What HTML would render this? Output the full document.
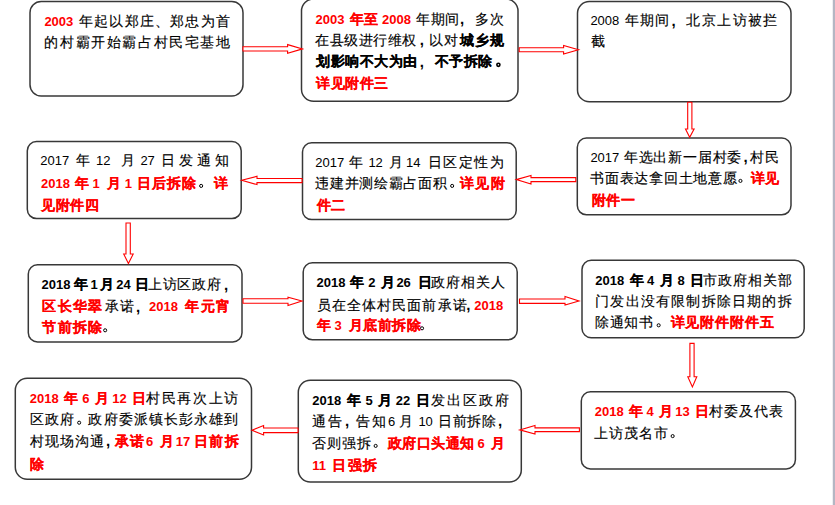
<!DOCTYPE html>
<html><head><meta charset="utf-8"><style>
html,body{margin:0;padding:0;background:#fff;width:835px;height:505px;overflow:hidden;position:relative}
svg{position:absolute;left:0;top:0}
.bar{position:absolute;left:833px;top:0;width:2px;height:505px;background:#b4b6c3}
.bar2{position:absolute;left:832px;top:0;width:1px;height:505px;background:#eeeef2}
.ln{position:absolute;white-space:nowrap;font-family:"Liberation Sans",sans-serif;font-size:14px;line-height:21px;color:#000;letter-spacing:0.5px}
.j{text-align:justify;text-align-last:justify}
.n{font-weight:normal;color:#000;-webkit-text-stroke:0.15px #000}
.b{font-weight:bold;color:#000;-webkit-text-stroke:0.15px #000}
.r{font-weight:bold;color:#ff0000;-webkit-text-stroke:0.15px #ff0000}
.d{font-size:13px;letter-spacing:0;-webkit-text-stroke:0}
.cm{position:absolute;font-family:"Liberation Sans",sans-serif;font-size:15px;font-weight:bold;line-height:21px}
.pe{position:absolute;width:2.6px;height:2.6px;border:1px solid #000;border-radius:50%}
</style></head><body>
<svg width="835" height="505" viewBox="0 0 835 505">
<rect x="30.00" y="1.50" width="213.00" height="94.50" rx="11.18" ry="11.18" fill="#fff" stroke="#383838" stroke-width="1.5"/>
<rect x="301.50" y="-1.00" width="216.50" height="102.30" rx="12.06" ry="12.06" fill="#fff" stroke="#383838" stroke-width="1.5"/>
<rect x="577.50" y="1.50" width="213.50" height="100.30" rx="11.83" ry="11.83" fill="#fff" stroke="#383838" stroke-width="1.5"/>
<rect x="27.30" y="141.50" width="213.90" height="77.10" rx="9.24" ry="9.24" fill="#fff" stroke="#383838" stroke-width="1.5"/>
<rect x="302.50" y="142.80" width="213.70" height="76.80" rx="9.20" ry="9.20" fill="#fff" stroke="#383838" stroke-width="1.5"/>
<rect x="577.30" y="138.00" width="213.70" height="76.80" rx="9.20" ry="9.20" fill="#fff" stroke="#383838" stroke-width="1.5"/>
<rect x="28.30" y="264.80" width="213.70" height="77.20" rx="9.25" ry="9.25" fill="#fff" stroke="#383838" stroke-width="1.5"/>
<rect x="303.20" y="262.80" width="214.00" height="77.00" rx="9.22" ry="9.22" fill="#fff" stroke="#383838" stroke-width="1.5"/>
<rect x="582.00" y="260.20" width="222.20" height="77.50" rx="9.28" ry="9.28" fill="#fff" stroke="#383838" stroke-width="1.5"/>
<rect x="15.30" y="378.30" width="236.20" height="100.90" rx="11.90" ry="11.90" fill="#fff" stroke="#383838" stroke-width="1.5"/>
<rect x="298.30" y="380.20" width="223.00" height="101.80" rx="12.00" ry="12.00" fill="#fff" stroke="#383838" stroke-width="1.5"/>
<rect x="581.30" y="391.80" width="214.10" height="77.10" rx="9.24" ry="9.24" fill="#fff" stroke="#383838" stroke-width="1.5"/>
<circle cx="498.40" cy="64.80" r="1.55" fill="none" stroke="#000" stroke-width="1.6"/>
<circle cx="201.15" cy="185.90" r="1.55" fill="none" stroke="#000" stroke-width="1.0"/>
<circle cx="452.15" cy="185.90" r="1.55" fill="none" stroke="#000" stroke-width="1.0"/>
<circle cx="740.45" cy="180.90" r="1.55" fill="none" stroke="#000" stroke-width="1.0"/>
<circle cx="105.15" cy="330.30" r="1.55" fill="none" stroke="#000" stroke-width="1.0"/>
<circle cx="422.05" cy="328.30" r="1.55" fill="none" stroke="#000" stroke-width="1.0"/>
<circle cx="658.65" cy="325.30" r="1.55" fill="none" stroke="#000" stroke-width="1.0"/>
<circle cx="79.15" cy="422.70" r="1.55" fill="none" stroke="#000" stroke-width="1.0"/>
<circle cx="375.65" cy="445.90" r="1.55" fill="none" stroke="#000" stroke-width="1.0"/>
<circle cx="672.65" cy="436.10" r="1.55" fill="none" stroke="#000" stroke-width="1.0"/>
<path d="M243.0,46.7 L287.6,46.7 L287.6,44.6 L302.5,48.9 L287.6,53.2 L287.6,51.0 L243.0,51.0 Z" fill="#fff" stroke="#ff0000" stroke-width="1.1" stroke-linejoin="miter"/>
<path d="M519.2,47.8 L563.6,47.8 L563.6,45.4 L578.5,49.8 L563.6,54.0 L563.6,51.8 L519.2,51.8 Z" fill="#fff" stroke="#ff0000" stroke-width="1.1" stroke-linejoin="miter"/>
<path d="M575.8,177.6 L531.0,177.6 L531.0,175.5 L516.3,179.6 L531.0,184.0 L531.0,181.6 L575.8,181.6 Z" fill="#fff" stroke="#ff0000" stroke-width="1.1" stroke-linejoin="miter"/>
<path d="M302.0,178.5 L257.0,178.5 L257.0,176.3 L241.7,180.3 L257.0,184.6 L257.0,182.6 L302.0,182.6 Z" fill="#fff" stroke="#ff0000" stroke-width="1.1" stroke-linejoin="miter"/>
<path d="M243.0,298.7 L288.0,298.7 L288.0,297.1 L302.0,301.0 L288.0,305.6 L288.0,303.2 L243.0,303.2 Z" fill="#fff" stroke="#ff0000" stroke-width="1.1" stroke-linejoin="miter"/>
<path d="M519.5,299.0 L565.0,299.0 L565.0,296.6 L579.0,301.0 L565.0,305.1 L565.0,303.4 L519.5,303.4 Z" fill="#fff" stroke="#ff0000" stroke-width="1.1" stroke-linejoin="miter"/>
<path d="M579.4,427.9 L535.0,427.9 L535.0,425.5 L519.8,429.9 L535.0,434.1 L535.0,431.6 L579.4,431.6 Z" fill="#fff" stroke="#ff0000" stroke-width="1.1" stroke-linejoin="miter"/>
<path d="M298.0,428.0 L263.6,428.0 L263.6,425.6 L251.9,430.2 L263.6,435.0 L263.6,432.6 L298.0,432.6 Z" fill="#fff" stroke="#ff0000" stroke-width="1.1" stroke-linejoin="miter"/>
<path d="M687.7,102.2 L687.7,129.0 L685.5,129.0 L689.7,137.2 L694.1,129.0 L691.9,129.0 L691.9,102.2 Z" fill="#fff" stroke="#ff0000" stroke-width="1.1" stroke-linejoin="miter"/>
<path d="M126.0,223.0 L126.0,254.0 L123.7,254.0 L128.4,263.5 L133.2,254.0 L130.3,254.0 L130.3,223.0 Z" fill="#fff" stroke="#ff0000" stroke-width="1.1" stroke-linejoin="miter"/>
<path d="M689.9,343.4 L689.9,376.8 L687.8,376.8 L692.4,387.0 L696.8,376.8 L694.1,376.8 L694.1,343.4 Z" fill="#fff" stroke="#ff0000" stroke-width="1.1" stroke-linejoin="miter"/>
</svg>
<div class="bar2"></div><div class="bar"></div>
<div class="ln" style="left:44.4px;top:10.9px"><span class="r"><span class="d">2003</span></span></div>
<div class="ln j" style="left:78.9px;top:10.9px;width:151.4px"><span class="n">年起以郑庄、郑忠为首</span></div>
<div class="ln j" style="left:44.4px;top:32.2px;width:186.2px"><span class="n">的村霸开始霸占村民宅基地</span></div>
<div class="ln" style="left:315.5px;top:8.9px"><span class="r"><span class="d">2003</span></span></div>
<div class="ln j" style="left:349.7px;top:8.9px;width:27.7px"><span class="r">年至</span></div>
<div class="ln" style="left:382.1px;top:8.9px"><span class="r"><span class="d">2008</span></span></div>
<div class="ln j" style="left:416.0px;top:8.9px;width:43.7px"><span class="n">年期间</span></div>
<div class="cm" style="left:460.0px;top:8.4px;color:#000">,</div>
<div class="ln j" style="left:474.7px;top:8.9px;width:29.5px"><span class="n">多次</span></div>
<div class="ln j" style="left:315.4px;top:29.9px;width:101.2px"><span class="n">在县级进行维权</span></div>
<div class="cm" style="left:419.7px;top:29.4px;color:#000">,</div>
<div class="ln j" style="left:429.2px;top:29.9px;width:29.2px"><span class="n">以对</span></div>
<div class="ln j" style="left:459.9px;top:29.9px;width:44.3px"><span class="b">城乡规</span></div>
<div class="ln j" style="left:316.2px;top:51.0px;width:100.4px"><span class="b">划影响不大为由</span></div>
<div class="cm" style="left:419.7px;top:50.5px;color:#000">,</div>
<div class="ln j" style="left:434.8px;top:51.0px;width:57.3px"><span class="b">不予拆除</span></div>
<div class="ln" style="left:316.0px;top:73.4px"><span class="r">详见附件三</span></div>
<div class="ln" style="left:590.4px;top:10.2px"><span class="n"><span class="d">2008</span></span></div>
<div class="ln j" style="left:625.1px;top:10.2px;width:44.6px"><span class="n">年期间</span></div>
<div class="cm" style="left:671.4px;top:9.7px;color:#000">,</div>
<div class="ln j" style="left:686.2px;top:10.2px;width:91.8px"><span class="n">北京上访被拦</span></div>
<div class="ln" style="left:591.1px;top:31.3px"><span class="n">截</span></div>
<div class="ln" style="left:40.2px;top:150.2px"><span class="n"><span class="d">2017</span></span></div>
<div class="ln" style="left:76.3px;top:150.2px"><span class="n">年</span></div>
<div class="ln" style="left:96.1px;top:150.2px"><span class="n"><span class="d">12</span></span></div>
<div class="ln" style="left:120.6px;top:150.2px"><span class="n">月</span></div>
<div class="ln" style="left:140.4px;top:150.2px"><span class="n"><span class="d">27</span></span></div>
<div class="ln j" style="left:161.4px;top:150.2px;width:68.4px"><span class="n">日发通知</span></div>
<div class="ln" style="left:41.0px;top:172.6px"><span class="r"><span class="d">2018</span></span></div>
<div class="ln" style="left:74.5px;top:172.6px"><span class="r">年</span></div>
<div class="ln" style="left:92.4px;top:172.6px"><span class="r"><span class="d">1</span></span></div>
<div class="ln" style="left:106.9px;top:172.6px"><span class="r">月</span></div>
<div class="ln" style="left:124.8px;top:172.6px"><span class="r"><span class="d">1</span></span></div>
<div class="ln j" style="left:137.2px;top:172.6px;width:59.8px"><span class="r">日后拆除</span></div>
<div class="ln" style="left:214.4px;top:172.6px"><span class="r">详</span></div>
<div class="ln" style="left:41.0px;top:195.0px"><span class="r">见附件四</span></div>
<div class="ln" style="left:315.2px;top:151.5px"><span class="n"><span class="d">2017</span></span></div>
<div class="ln" style="left:348.9px;top:151.5px"><span class="n">年</span></div>
<div class="ln" style="left:368.4px;top:151.5px"><span class="n"><span class="d">12</span></span></div>
<div class="ln" style="left:389.0px;top:151.5px"><span class="n">月</span></div>
<div class="ln" style="left:406.1px;top:151.5px"><span class="n"><span class="d">14</span></span></div>
<div class="ln j" style="left:427.7px;top:151.5px;width:76.6px"><span class="n">日区定性为</span></div>
<div class="ln j" style="left:315.2px;top:172.6px;width:132.2px"><span class="n">违建并测绘霸占面积</span></div>
<div class="ln j" style="left:459.6px;top:172.6px;width:46.0px"><span class="r">详见附</span></div>
<div class="ln" style="left:316.5px;top:195.0px"><span class="r">件二</span></div>
<div class="ln" style="left:590.4px;top:146.5px"><span class="n"><span class="d">2017</span></span></div>
<div class="ln j" style="left:623.9px;top:146.5px;width:118.0px"><span class="n">年选出新一届村委</span></div>
<div class="cm" style="left:743.5px;top:146.0px;color:#000">,</div>
<div class="ln j" style="left:749.7px;top:146.5px;width:29.5px"><span class="n">村民</span></div>
<div class="ln j" style="left:590.4px;top:167.6px;width:146.7px"><span class="n">书面表达拿回土地意愿</span></div>
<div class="ln j" style="left:750.5px;top:167.6px;width:29.4px"><span class="r">详见</span></div>
<div class="ln" style="left:591.9px;top:190.0px"><span class="r">附件一</span></div>
<div class="ln" style="left:41.5px;top:274.1px"><span class="b"><span class="d">2018</span></span></div>
<div class="ln" style="left:73.9px;top:274.1px"><span class="b">年</span></div>
<div class="ln" style="left:90.6px;top:274.1px"><span class="b"><span class="d">1</span></span></div>
<div class="ln" style="left:100.3px;top:274.1px"><span class="b">月</span></div>
<div class="ln" style="left:116.2px;top:274.1px"><span class="b"><span class="d">24</span></span></div>
<div class="ln" style="left:134.6px;top:274.1px"><span class="b">日</span></div>
<div class="ln j" style="left:148.2px;top:274.1px;width:73.0px"><span class="n">上访区政府</span></div>
<div class="cm" style="left:224.0px;top:273.6px;color:#000">,</div>
<div class="ln j" style="left:42.3px;top:296.0px;width:60.3px"><span class="r">区长华翠</span></div>
<div class="ln j" style="left:104.8px;top:296.0px;width:29.5px"><span class="n">承诺</span></div>
<div class="cm" style="left:136.0px;top:295.5px;color:#000">,</div>
<div class="ln" style="left:149.0px;top:296.0px"><span class="r"><span class="d">2018</span></span></div>
<div class="ln j" style="left:185.4px;top:296.0px;width:45.2px"><span class="r">年元宵</span></div>
<div class="ln j" style="left:42.3px;top:317.0px;width:60.5px"><span class="r">节前拆除</span></div>
<div class="ln" style="left:316.5px;top:272.1px"><span class="b"><span class="d">2018</span></span></div>
<div class="ln" style="left:349.7px;top:272.1px"><span class="b">年</span></div>
<div class="ln" style="left:368.2px;top:272.1px"><span class="b"><span class="d">2</span></span></div>
<div class="ln" style="left:380.6px;top:272.1px"><span class="b">月</span></div>
<div class="ln" style="left:396.4px;top:272.1px"><span class="b"><span class="d">26</span></span></div>
<div class="ln" style="left:417.5px;top:272.1px"><span class="b">日</span></div>
<div class="ln j" style="left:431.2px;top:272.1px;width:74.4px"><span class="n">政府相关人</span></div>
<div class="ln j" style="left:316.5px;top:294.5px;width:150.7px"><span class="n">员在全体村民面前承诺</span></div>
<div class="cm" style="left:466.3px;top:294.0px;color:#000">,</div>
<div class="ln" style="left:474.2px;top:294.5px"><span class="r"><span class="d">2018</span></span></div>
<div class="ln" style="left:316.5px;top:315.0px"><span class="r">年</span></div>
<div class="ln" style="left:334.5px;top:315.0px"><span class="r"><span class="d">3</span></span></div>
<div class="ln j" style="left:348.9px;top:315.0px;width:71.5px"><span class="r">月底前拆除</span></div>
<div class="ln" style="left:595.3px;top:269.9px"><span class="b"><span class="d">2018</span></span></div>
<div class="ln" style="left:630.0px;top:269.9px"><span class="b">年</span></div>
<div class="ln" style="left:647.1px;top:269.9px"><span class="b"><span class="d">4</span></span></div>
<div class="ln" style="left:659.5px;top:269.9px"><span class="b">月</span></div>
<div class="ln" style="left:677.4px;top:269.9px"><span class="b"><span class="d">8</span></span></div>
<div class="ln" style="left:689.8px;top:269.9px"><span class="b">日</span></div>
<div class="ln j" style="left:702.7px;top:269.9px;width:89.4px"><span class="n">市政府相关部</span></div>
<div class="ln j" style="left:595.3px;top:291.4px;width:196.8px"><span class="n">门发出没有限制拆除日期的拆</span></div>
<div class="ln j" style="left:595.3px;top:312.0px;width:58.1px"><span class="n">除通知书</span></div>
<div class="ln j" style="left:670.5px;top:312.0px;width:103.9px"><span class="r">详见附件附件五</span></div>
<div class="ln" style="left:29.7px;top:388.0px"><span class="r"><span class="d">2018</span></span></div>
<div class="ln" style="left:64.2px;top:388.0px"><span class="r">年</span></div>
<div class="ln" style="left:82.3px;top:388.0px"><span class="r"><span class="d">6</span></span></div>
<div class="ln" style="left:94.6px;top:388.0px"><span class="r">月</span></div>
<div class="ln" style="left:112.2px;top:388.0px"><span class="r"><span class="d">12</span></span></div>
<div class="ln" style="left:132.0px;top:388.0px"><span class="r">日</span></div>
<div class="ln j" style="left:145.8px;top:388.0px;width:93.2px"><span class="n">村民再次上访</span></div>
<div class="ln j" style="left:30.4px;top:409.4px;width:44.5px"><span class="n">区政府</span></div>
<div class="ln j" style="left:88.4px;top:409.4px;width:150.6px"><span class="n">政府委派镇长彭永雄到</span></div>
<div class="ln j" style="left:29.5px;top:430.6px;width:74.9px"><span class="n">村现场沟通</span></div>
<div class="cm" style="left:106.0px;top:430.1px;color:#000">,</div>
<div class="ln j" style="left:114.5px;top:430.6px;width:30.3px"><span class="r">承诺</span></div>
<div class="ln" style="left:146.0px;top:430.6px"><span class="r"><span class="d">6</span></span></div>
<div class="ln" style="left:159.8px;top:430.6px"><span class="r">月</span></div>
<div class="ln" style="left:175.8px;top:430.6px"><span class="r"><span class="d">17</span></span></div>
<div class="ln j" style="left:194.0px;top:430.6px;width:45.0px"><span class="r">日前拆</span></div>
<div class="ln" style="left:30.3px;top:453.8px"><span class="r">除</span></div>
<div class="ln" style="left:312.3px;top:389.9px"><span class="b"><span class="d">2018</span></span></div>
<div class="ln" style="left:347.0px;top:389.9px"><span class="b">年</span></div>
<div class="ln" style="left:365.4px;top:389.9px"><span class="b"><span class="d">5</span></span></div>
<div class="ln" style="left:378.4px;top:389.9px"><span class="b">月</span></div>
<div class="ln" style="left:395.8px;top:389.9px"><span class="b"><span class="d">22</span></span></div>
<div class="ln" style="left:416.4px;top:389.9px"><span class="b">日</span></div>
<div class="ln j" style="left:430.8px;top:389.9px;width:78.3px"><span class="n">发出区政府</span></div>
<div class="ln j" style="left:312.3px;top:410.8px;width:30.7px"><span class="n">通告</span></div>
<div class="cm" style="left:345.0px;top:410.3px;color:#000">,</div>
<div class="ln j" style="left:356.4px;top:410.8px;width:30.0px"><span class="n">告知</span></div>
<div class="ln" style="left:388.1px;top:410.8px"><span class="n"><span class="d">6</span></span></div>
<div class="ln" style="left:398.5px;top:410.8px"><span class="n">月</span></div>
<div class="ln" style="left:418.4px;top:410.8px"><span class="n"><span class="d">10</span></span></div>
<div class="ln j" style="left:437.7px;top:410.8px;width:59.0px"><span class="n">日前拆除</span></div>
<div class="cm" style="left:497.9px;top:410.3px;color:#000">,</div>
<div class="ln j" style="left:312.3px;top:432.6px;width:59.1px"><span class="n">否则强拆</span></div>
<div class="ln j" style="left:387.5px;top:432.6px;width:87.2px"><span class="r">政府口头通知</span></div>
<div class="ln" style="left:477.6px;top:432.6px"><span class="r"><span class="d">6</span></span></div>
<div class="ln" style="left:491.3px;top:432.6px"><span class="r">月</span></div>
<div class="ln" style="left:312.3px;top:454.6px"><span class="r"><span class="d">11</span></span></div>
<div class="ln j" style="left:332.4px;top:454.6px;width:45.3px"><span class="r">日强拆</span></div>
<div class="ln" style="left:594.7px;top:401.3px"><span class="r"><span class="d">2018</span></span></div>
<div class="ln" style="left:629.2px;top:401.3px"><span class="r">年</span></div>
<div class="ln" style="left:646.5px;top:401.3px"><span class="r"><span class="d">4</span></span></div>
<div class="ln" style="left:658.6px;top:401.3px"><span class="r">月</span></div>
<div class="ln" style="left:675.2px;top:401.3px"><span class="r"><span class="d">13</span></span></div>
<div class="ln" style="left:695.2px;top:401.3px"><span class="r">日</span></div>
<div class="ln j" style="left:709.1px;top:401.3px;width:74.7px"><span class="n">村委及代表</span></div>
<div class="ln j" style="left:594.4px;top:422.8px;width:74.5px"><span class="n">上访茂名市</span></div>
</body></html>
